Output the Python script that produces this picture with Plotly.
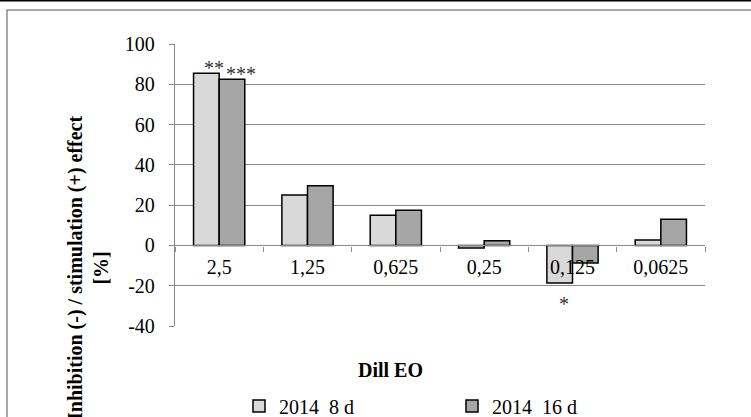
import plotly.graph_objects as go

categories = ["2,5", "1,25", "0,625", "0,25", "0,125", "0,0625"]
series_8d = [85.5, 25.0, 15.0, -1.3, -18.6, 2.7]
series_16d = [82.5, 29.6, 17.5, 2.3, -8.7, 13.0]
series_names = ["2014\u00a0 8 d", "2014\u00a0 16 d"]
y_ticks = [-40, -20, 0, 20, 40, 60, 80, 100]
signif_marks = [("**", 0, "8d"), ("***", 0, "16d"), ("*", 4, "8d")]

FONT = "Liberation Serif, Times New Roman, serif"
GRID = "#8a8a8a"

W, H = 751, 417
ML, MR, MT, MB = 175, 46, 44, 91
PW = W - ML - MR
PH = H - MT - MB


def px_x(px):
    return (px - ML) / PW


def px_y(py):
    return (H - MB - py) / PH


fig = go.Figure()
fig.add_trace(go.Bar(x=categories, y=series_8d, name=series_names[0],
                     marker=dict(color="#d9d9d9", line=dict(color="#000000", width=1.5))))
fig.add_trace(go.Bar(x=categories, y=series_16d, name=series_names[1],
                     marker=dict(color="#a6a6a6", line=dict(color="#000000", width=1.5))))

shifts = {"**": (-5, 5), "***": (22, 5), "*": (-9, -21)}
anns = []
for text, idx, ser in signif_marks:
    val = series_8d[idx] if ser == "8d" else series_16d[idx]
    xs, ys = shifts[text]
    anns.append(dict(xref="x", yref="y", x=idx, y=val, text=text, xshift=xs, yshift=ys,
                     showarrow=False, xanchor="center", yanchor="middle",
                     font=dict(family=FONT, size=20, color="#333333")))

anns.append(dict(xref="paper", yref="paper", x=px_x(88), y=px_y(268), textangle=-90,
                 text="<b>Inhibition (-) / stimulation (+) effect<br>[%]</b>",
                 showarrow=False, xanchor="center", yanchor="middle",
                 font=dict(family=FONT, size=20, color="#000000")))
anns.append(dict(xref="paper", yref="paper", x=px_x(390), y=px_y(370),
                 text="<b>Dill EO</b>", showarrow=False, xanchor="center", yanchor="middle",
                 font=dict(family=FONT, size=20, color="#000000")))

shapes = [
    dict(type="rect", xref="paper", yref="paper", x0=px_x(7), x1=px_x(800),
         y0=px_y(10), y1=px_y(480), line=dict(color="#8c8c8c", width=1.5), fillcolor="rgba(0,0,0,0)"),
    dict(type="line", xref="paper", yref="paper", x0=px_x(-5), x1=px_x(800),
         y0=px_y(0.6), y1=px_y(0.6), line=dict(color="#000000", width=1.6)),
]

fig.update_layout(
    width=W, height=H,
    margin=dict(l=ML, r=MR, t=MT, b=MB, pad=0, autoexpand=False),
    paper_bgcolor="white", plot_bgcolor="white",
    barmode="group", bargap=0.42, bargroupgap=0,
    font=dict(family=FONT, size=20, color="#000000"),
    showlegend=True,
    legend=dict(orientation="h", x=px_x(239), y=px_y(406), xanchor="left", yanchor="middle",
                entrywidth=168, entrywidthmode="pixels", itemwidth=30,
                font=dict(family=FONT, size=20, color="#000000"),
                bgcolor="rgba(0,0,0,0)", tracegroupgap=0),
    annotations=anns,
    shapes=shapes,
)

fig.update_yaxes(range=[-40, 100], tickvals=y_ticks, ticktext=[str(v) for v in y_ticks],
                 showgrid=True, gridcolor=GRID, gridwidth=1.3, zeroline=False,
                 showline=True, linecolor=GRID, linewidth=1.3,
                 ticks="outside", ticklen=5, tickcolor=GRID, tickwidth=1.3,
                 ticklabelstandoff=10, tickfont=dict(family=FONT, size=20, color="#000000"),
                 fixedrange=True)
fig.update_xaxes(type="category", anchor="free", position=40 / 140,
                 showline=True, linecolor=GRID, linewidth=1.3,
                 ticks="outside", ticklen=5, tickcolor=GRID, tickwidth=1.3,
                 tickson="boundaries", showgrid=False, ticklabelstandoff=3,
                 tickfont=dict(family=FONT, size=20, color="#000000"),
                 fixedrange=True)

fig.write_html("out.html", config={"displayModeBar": False},
               post_script="document.body.style.margin='0';document.body.style.overflow='hidden';")
